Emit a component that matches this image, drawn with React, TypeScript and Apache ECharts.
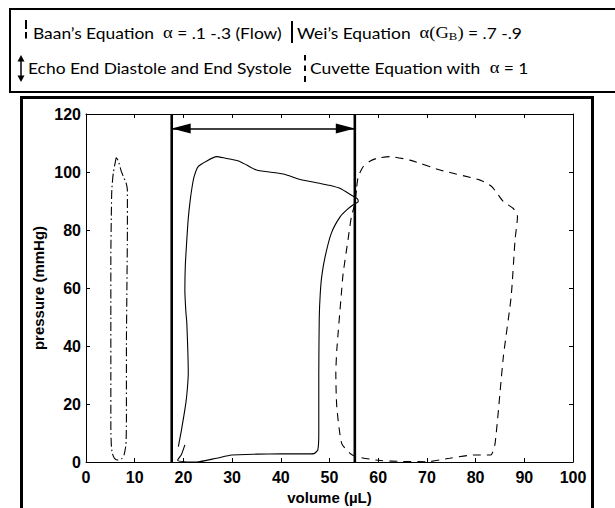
import React, { useEffect, useRef } from "react";
import * as echarts from "echarts";

// x: volume (µL), y: pressure (mmHg)
const xTicks = { min: 0, max: 100, interval: 10 };
const yTicks = { min: 0, max: 120, interval: 20 };

// Baan's Equation (dash-dot loop)
const baanLoop: [number, number][] = [
  [6.2, 105], [5.6, 99.6], [5.3, 93.8], [5.2, 85], [5.1, 70], [5.1, 50], [5.1, 30], [5.1, 12],
  [5.2, 6], [5.4, 3], [5.9, 1.2], [6.6, 0.7], [7.3, 1.1], [7.8, 2.4], [8.2, 6], [8.3, 15],
  [8.3, 40], [8.4, 60], [8.5, 80], [8.5, 93.8], [8.2, 96.5], [7.8, 97.9], [7.2, 100.5],
  [6.6, 104], [6.2, 105],
];

// Wei's Equation (solid loop)
const weiLoop: [number, number][] = [
  [20.3, 5.9], [19.6, 2.6], [18.8, 0.6], [20.2, 0.1], [22.7, 0], [26.8, 1.3], [29.9, 2.4],
  [35, 2.7], [40, 2.8], [45, 2.8], [46.8, 2.9], [47.6, 4.2], [47.8, 10], [47.8, 30], [47.9, 50],
  [48.1, 58], [48.4, 63.9], [49.1, 70.8], [50.4, 79], [52.2, 84.6], [53.6, 87], [54.8, 88.6],
  [55.9, 89.8], [55.7, 90.8], [54.5, 92], [52.2, 94.3], [50, 95.4], [48, 96.1], [44, 97.4],
  [40.5, 99.3], [35, 100.7], [33, 102.4], [31.3, 103.8], [28.5, 104.8], [26.8, 105.3],
  [24.8, 103.8], [23, 101.8], [22.2, 98.4], [21.8, 95], [21.4, 90.3], [21, 84], [20.7, 76.6],
  [20.4, 68], [20.3, 59.3], [20.5, 52], [20.7, 48], [21, 30.7], [20.8, 25], [20.5, 20.3],
  [19.6, 11], [18.96, 5.3],
];

// Cuvette Equation with alpha = 1 (dashed loop)
const cuvetteLoop: [number, number][] = [
  [55.6, 95], [55.9, 98.4], [56.9, 101.8], [58.3, 103.7], [59.7, 104.7], [62.4, 105.3],
  [66.5, 104.1], [72.7, 100.7], [80.9, 97.2], [83.3, 95], [85.7, 89.8], [87.7, 87.5],
  [88.6, 84.6], [88.1, 76.6], [87.3, 57], [85.7, 36.3], [84, 6.4], [83.1, 2.4], [79.5, 2.4],
  [74.7, 1.3], [70, 0.1], [65, 0.2], [60.4, 0.5], [55.6, 1.8], [54.2, 3], [52.5, 6.4],
  [51.5, 19], [51.3, 30.6], [51.5, 38.6], [52.5, 59.3], [52.8, 65], [53.8, 76.6],
  [54.5, 84.6], [55.2, 89], [55.6, 95],
];

// Echo end diastole / end systole volumes
const echoVolumes = [17.6, 55.2];
const echoArrowPressure = 115;

export default function App() {
  const ref = useRef<HTMLDivElement>(null);

  useEffect(() => {
    if (!ref.current) return;
    const chart = echarts.init(ref.current, null, { renderer: "svg" });
    const axisFont = { fontFamily: "Liberation Sans", fontWeight: "bold" as const, fontSize: 16, color: "#000" };
    const serif = { fontFamily: "Liberation Serif", fontSize: 16, color: "#000" };
    const legendFont = { fontFamily: "Lato", fontSize: 15, color: "#000" };
    const stretch = 1.16;

    const loopSeries = (name: string, data: [number, number][], type: any, width = 1.1) => ({
      name,
      type: "line",
      data,
      showSymbol: false,
      symbol: "none",
      smooth: 0.2,
      xAxisIndex: 0,
      yAxisIndex: 0,
      lineStyle: { color: "#000", width, type },
      z: 3,
    });

    const axisLine = { show: true, onZero: false, lineStyle: { color: "#000", width: 1 } };
    const axisTick = { show: true, inside: true, length: 4, lineStyle: { color: "#000" } };

    chart.setOption({
      animation: false,
      backgroundColor: "#fff",
      grid: { left: 86, right: 42, top: 114, bottom: 46, containLabel: false },
      xAxis: [
        {
          type: "value", ...xTicks, position: "bottom",
          axisLine, axisTick,
          axisLabel: { ...axisFont, margin: 7 },
          splitLine: { show: false },
        },
        {
          type: "value", ...xTicks, position: "top",
          axisLine, axisTick,
          axisLabel: { show: false },
          splitLine: { show: false },
        },
      ],
      yAxis: [
        {
          type: "value", ...yTicks, position: "left",
          axisLine, axisTick,
          axisLabel: { ...axisFont, margin: 5 },
          splitLine: { show: false },
        },
        {
          type: "value", ...yTicks, position: "right",
          axisLine, axisTick,
          axisLabel: { show: false },
          splitLine: { show: false },
        },
      ],
      series: [
        loopSeries("Baan's Equation", baanLoop, [9, 3, 1.5, 3]),
        loopSeries("Wei's Equation", weiLoop, "solid"),
        loopSeries("Cuvette Equation", cuvetteLoop, [8, 6]),
        ...echoVolumes.map((v, i) => ({
          name: "Echo " + i,
          type: "line",
          data: [[v, yTicks.min], [v, yTicks.max]],
          symbol: "none",
          lineStyle: { color: "#000", width: 2.6 },
          z: 4,
          ...(i === 0
            ? {
                markLine: {
                  silent: true,
                  symbol: ["triangle", "triangle"],
                  symbolSize: [10, 19],
                  symbolOffset: [[0, 9.5], [0, 9.5]],
                  label: { show: false },
                  lineStyle: { color: "#000", width: 1.5, type: "solid" },
                  itemStyle: { color: "#000" },
                  data: [[{ coord: [echoVolumes[0], echoArrowPressure] }, { coord: [echoVolumes[1], echoArrowPressure] }]],
                },
              }
            : {}),
        })),
      ],
      graphic: [
        { type: "rect", shape: { x: 10, y: 9, width: 640, height: 83 }, style: { fill: "none", stroke: "#000", lineWidth: 2 }, silent: true },
        { type: "rect", shape: { x: 21.5, y: 97.5, width: 571, height: 450 }, style: { fill: "none", stroke: "#000", lineWidth: 3 }, silent: true },
        // legend icons
        { type: "line", shape: { x1: 26, y1: 20, x2: 26, y2: 29 }, style: { stroke: "#000", lineWidth: 2 } },
        { type: "line", shape: { x1: 26, y1: 32, x2: 26, y2: 38.5 }, style: { stroke: "#000", lineWidth: 2 } },
        { type: "line", shape: { x1: 292, y1: 21, x2: 292, y2: 43 }, style: { stroke: "#000", lineWidth: 2 } },
        { type: "line", shape: { x1: 21, y1: 59, x2: 21, y2: 78 }, style: { stroke: "#000", lineWidth: 1.5 } },
        { type: "polygon", shape: { points: [[21, 55], [17.5, 61.5], [24.5, 61.5]] }, style: { fill: "#000" } },
        { type: "polygon", shape: { points: [[21, 82], [17.5, 75.5], [24.5, 75.5]] }, style: { fill: "#000" } },
        { type: "line", shape: { x1: 305, y1: 55, x2: 305, y2: 60.5 }, style: { stroke: "#000", lineWidth: 2 } },
        { type: "line", shape: { x1: 305, y1: 65.5, x2: 305, y2: 71 }, style: { stroke: "#000", lineWidth: 2 } },
        { type: "line", shape: { x1: 305, y1: 76, x2: 305, y2: 82 }, style: { stroke: "#000", lineWidth: 2 } },
        // legend texts
        {
          type: "text", x: 33, y: 33, scaleX: stretch,
          style: {
            text: "Baan’s Equation  {s|α} = .1 -.3 (Flow)",
            ...legendFont, verticalAlign: "middle",
            rich: { s: serif },
          },
        },
        {
          type: "text", x: 297, y: 33, scaleX: stretch,
          style: {
            text: "Wei’s Equation  {s|α(G}{b|B}{s|)} = .7 -.9",
            ...legendFont, verticalAlign: "middle",
            rich: { s: serif, b: { ...serif, fontSize: 11, padding: [6, 0, 0, 0] } },
          },
        },
        {
          type: "text", x: 28, y: 68, scaleX: stretch,
          style: { text: "Echo End Diastole and End Systole", ...legendFont, verticalAlign: "middle" },
        },
        {
          type: "text", x: 310, y: 68, scaleX: stretch,
          style: {
            text: "Cuvette Equation with  {s|α} = 1",
            ...legendFont, verticalAlign: "middle",
            rich: { s: serif },
          },
        },
        // axis titles
        {
          type: "text", x: 38, y: 288, rotation: Math.PI / 2,
          style: { text: "pressure (mmHg)", fontFamily: "Liberation Sans", fontWeight: "bold", fontSize: 15, fill: "#000", align: "center", verticalAlign: "middle" },
        },
        {
          type: "text", x: 329.5, y: 497,
          style: { text: "volume (µL)", fontFamily: "Liberation Sans", fontWeight: "bold", fontSize: 15, fill: "#000", align: "center", verticalAlign: "middle" },
        },
      ],
    });
    return () => chart.dispose();
  }, []);

  return <div ref={ref} style={{ position: "absolute", left: 0, top: 0, width: 615, height: 508 }} />;
}
